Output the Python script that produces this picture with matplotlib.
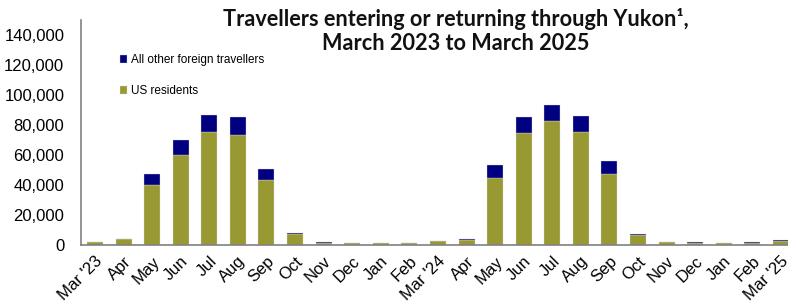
import numpy as np
import matplotlib
matplotlib.use('Agg')
import matplotlib.pyplot as plt

months = ["Mar '23", "Apr", "May", "Jun", "Jul", "Aug", "Sep", "Oct", "Nov", "Dec", "Jan", "Feb",
          "Mar '24", "Apr", "May", "Jun", "Jul", "Aug", "Sep", "Oct", "Nov", "Dec", "Jan", "Feb", "Mar '25"]
us_residents = [2500, 4000, 40500, 60400, 75500, 73200, 43700, 7500, 1900, 1600, 1400, 1700,
                3000, 3800, 45000, 74800, 82600, 75200, 47700, 6600, 2300, 1900, 1700, 1900, 3200]
other_foreign = [50, 250, 7000, 9500, 11100, 12300, 7300, 800, 50, 50, 50, 50,
                 100, 400, 8700, 10700, 11100, 11200, 8400, 900, 50, 50, 50, 50, 100]

olive = '#999933'
navy = '#000080'

plt.rcParams['font.family'] = ['Liberation Sans', 'DejaVu Sans']

fig = plt.figure(figsize=(7.88, 3.06), dpi=100)
ax = fig.add_axes([0.1028, 0.198, 0.8972, 0.737])

x = np.arange(len(months))
us = np.array(us_residents)
oth = np.array(other_foreign)
ax.bar(x, us, width=0.56, color=olive, edgecolor='#d8d8e0', linewidth=0.25, label='US residents')
ax.bar(x, oth, bottom=us, width=0.56, color=navy, edgecolor='#d8d8e0', linewidth=0.25,
       label='All other foreign travellers')

ax.set_xlim(-0.49, 24.25)
ax.set_ylim(0, 150000)
ax.set_yticks(np.arange(0, 140001, 20000))
ax.yaxis.set_major_formatter(matplotlib.ticker.FuncFormatter(lambda v, p: f'{int(v):,}'))
ax.set_xticks(x)
ax.set_xticklabels(months, rotation=45, ha='right', rotation_mode='anchor')
ax.tick_params(axis='both', length=0, labelsize=12, colors='black')
ax.tick_params(axis='y', pad=12)
ax.tick_params(axis='x', pad=6)

for s in ['top', 'right']:
    ax.spines[s].set_visible(False)
ax.spines['left'].set_color('#808080')
ax.spines['bottom'].set_color('#808080')
ax.spines['left'].set_linewidth(1.2)
ax.spines['bottom'].set_linewidth(1.2)

handles, labels = ax.get_legend_handles_labels()
leg = ax.legend(handles[::-1], labels[::-1], loc='upper left', bbox_to_anchor=(0.04, 0.895),
                frameon=False, fontsize=8.5, handlelength=0.6, handleheight=0.6,
                handletextpad=0.3, labelspacing=1.6)

fig.text(0.578, 0.975, 'Travellers entering or returning through Yukon\u00b9,\nMarch 2023 to March 2025',
         ha='center', va='top', fontsize=15.6, fontweight='bold', family=['Lato', 'DejaVu Sans'],
         color='#111111', linespacing=1.17)

fig.savefig('out.png', dpi=100)
